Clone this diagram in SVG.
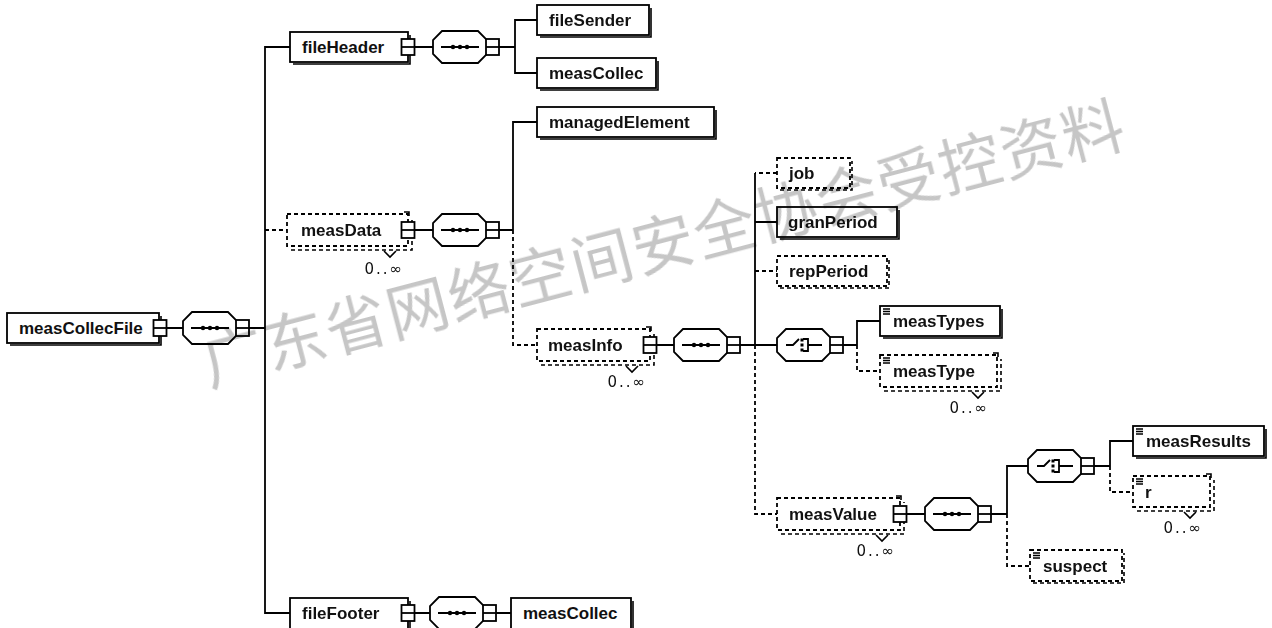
<svg xmlns="http://www.w3.org/2000/svg" width="1272" height="628" viewBox="0 0 1272 628">
<style>
.b{fill:#fff;stroke:#000;stroke-width:1.8}
.d{fill:#fff;stroke:#000;stroke-width:1.8;stroke-dasharray:4 3}
.sh{fill:none;stroke:#000;stroke-width:1.6}
.shd{fill:none;stroke:#000;stroke-width:1.6;stroke-dasharray:4 3}
.l{fill:none;stroke:#000;stroke-width:1.8}
.ld{fill:none;stroke:#000;stroke-width:1.8;stroke-dasharray:4 3}
.t{font-family:"Liberation Sans",Arial,sans-serif;font-weight:bold;font-size:17px;fill:#111}
.m{font-family:"DejaVu Sans",sans-serif;font-size:15px;fill:#111;letter-spacing:2px}
.wm{font-family:"Noto Sans CJK SC","Noto Sans",sans-serif;font-size:62px;fill:#c6c6c6;mix-blend-mode:multiply}
</style>
<defs>
<g id="seq">
 <path class="b" d="M9,0H45L54,9V23L45,32H9L0,23V9Z"/>
 <path class="l" d="M8,16H46"/>
 <circle cx="20" cy="16" r="2.2"/><circle cx="27" cy="16" r="2.2"/><circle cx="34" cy="16" r="2.2"/>
 <rect class="b" x="53" y="8" width="13" height="16"/>
 <path class="l" d="M53,16H66"/>
</g>
<g id="cho">
 <path class="b" d="M9,0H45L54,9V23L45,32H9L0,23V9Z"/>
 <path class="l" d="M9,16H16L22,10"/>
 <rect x="23.5" y="9.5" width="3" height="3"/><rect x="23.5" y="14.5" width="3" height="3"/><rect x="23.5" y="19.5" width="3" height="3"/>
 <path class="l" d="M26,10H31V22H26M31,16H45"/>
 <rect class="b" x="53" y="8" width="13" height="16"/>
 <path class="l" d="M53,16H66"/>
</g>
<g id="ex">
 <rect class="b" x="-6.5" y="-8" width="13" height="16"/>
 <path class="l" d="M-6.5,0H6.5"/>
</g>
<path id="eq" d="M3,3H10M3,5.5H10M3,8H10" fill="none" stroke="#000" stroke-width="1.4"/>
<path id="chev" d="M-6,0L0,6L6,0" fill="none" stroke="#000" stroke-width="1.6"/>
</defs>

<g id="connectors">
 <path class="l" d="M167,328H183M249,328H265"/>
 <path class="l" d="M290,47H265V613H290"/>
 <path class="ld" d="M265,230H287"/>
 <path class="l" d="M414.5,47H433M499,47H515"/>
 <path class="l" d="M537,20H515V73H537"/>
 <path class="l" d="M414.5,230H433M499,230H513"/>
 <path class="l" d="M537,122H513V230"/>
 <path class="ld" d="M513,230V345H537"/>
 <path class="l" d="M656.5,345H674M740,345H755"/>
 <path class="ld" d="M777,173H755"/>
 <path class="l" d="M755,173V345M755,222H777M755,345H777"/>
 <path class="ld" d="M755,271H777"/>
 <path class="ld" d="M755,345V514H777"/>
 <path class="l" d="M843,345H857M880,321H857V345"/>
 <path class="ld" d="M857,345V371H880"/>
 <path class="l" d="M906.5,514H925M991,514H1007M1028,466H1007V514"/>
 <path class="ld" d="M1007,514V566H1030"/>
 <path class="l" d="M1094,466H1110M1133,441H1110V466"/>
 <path class="ld" d="M1110,466V492H1133"/>
 <path class="l" d="M414.5,613H430M496,613H511"/>
</g>

<g id="compositors">
 <use href="#seq" transform="translate(183,312)"/>
 <use href="#seq" transform="translate(433,31)"/>
 <use href="#seq" transform="translate(433,214)"/>
 <use href="#seq" transform="translate(674,329)"/>
 <use href="#cho" transform="translate(777,329)"/>
 <use href="#seq" transform="translate(925,498)"/>
 <use href="#cho" transform="translate(1028,450)"/>
 <use href="#seq" transform="translate(430,597)"/>
</g>

<g id="measCollecFile">
 <path class="sh" d="M10,345H161V316"/>
 <rect class="b" x="7" y="313" width="152" height="30"/>
 <text class="t" x="19" y="334">measCollecFile</text>
 <use href="#ex" x="160" y="328"/>
</g>
<g id="fileHeader">
 <path class="sh" d="M293,64H410V35"/>
 <rect class="b" x="290" y="32" width="118" height="30"/>
 <text class="t" x="302" y="53">fileHeader</text>
 <use href="#ex" x="408" y="47"/>
</g>
<g id="fileSender">
 <path class="sh" d="M540,37H651V8"/>
 <rect class="b" x="537" y="5" width="112" height="30"/>
 <text class="t" x="549" y="26">fileSender</text>
</g>
<g id="measCollec1">
 <path class="sh" d="M540,90H658V61"/>
 <rect class="b" x="537" y="58" width="119" height="30"/>
 <text class="t" x="549" y="79">measCollec</text>
</g>
<g id="managedElement">
 <path class="sh" d="M540,139H716V110"/>
 <rect class="b" x="537" y="107" width="177" height="30"/>
 <text class="t" x="549" y="128">managedElement</text>
</g>
<g id="measData">
 <path class="shd" d="M291,250H412V218"/>
 <path class="sh" d="M404,212h5v4"/>
 <rect class="d" x="287" y="214" width="121" height="32"/>
 <text class="t" x="301" y="236">measData</text>
 <use href="#ex" x="408" y="230"/>
 <use href="#chev" x="390" y="251"/>
 <text class="m" x="404" y="274" text-anchor="end">0..∞</text>
</g>
<g id="measInfo">
 <path class="shd" d="M541,365H654V333"/>
 <path class="sh" d="M646,327h5v4"/>
 <rect class="d" x="537" y="329" width="113" height="32"/>
 <text class="t" x="548" y="351">measInfo</text>
 <use href="#ex" x="650" y="345"/>
 <use href="#chev" x="632" y="366"/>
 <text class="m" x="647" y="387" text-anchor="end">0..∞</text>
</g>
<g id="job">
 <path class="shd" d="M780,190H852V161"/>
 <rect class="d" x="777" y="158" width="73" height="30"/>
 <text class="t" x="789" y="179">job</text>
</g>
<g id="granPeriod">
 <path class="sh" d="M780,239H899V210"/>
 <rect class="b" x="777" y="207" width="120" height="30"/>
 <text class="t" x="788" y="228">granPeriod</text>
</g>
<g id="repPeriod">
 <path class="shd" d="M780,288H889V259"/>
 <rect class="d" x="777" y="256" width="110" height="30"/>
 <text class="t" x="789" y="277">repPeriod</text>
</g>
<g id="measTypes">
 <path class="sh" d="M883,338H1002V309"/>
 <rect class="b" x="880" y="306" width="120" height="30"/>
 <use href="#eq" x="880" y="306"/>
 <text class="t" x="893" y="327">measTypes</text>
</g>
<g id="measType">
 <path class="shd" d="M884,391H1001V359"/>
 <path class="sh" d="M993,353h5v4"/>
 <rect class="d" x="880" y="355" width="117" height="32"/>
 <use href="#eq" x="880" y="355"/>
 <text class="t" x="893" y="377">measType</text>
 <use href="#chev" x="978" y="392"/>
 <text class="m" x="989" y="413" text-anchor="end">0..∞</text>
</g>
<g id="measValue">
 <path class="shd" d="M781,534H904V502"/>
 <path class="sh" d="M896,496h5v4"/>
 <rect class="d" x="777" y="498" width="123" height="32"/>
 <text class="t" x="789" y="520">measValue</text>
 <use href="#ex" x="900" y="514"/>
 <use href="#chev" x="882" y="535"/>
 <text class="m" x="896" y="556" text-anchor="end">0..∞</text>
</g>
<g id="measResults">
 <path class="sh" d="M1136,458H1266V429"/>
 <rect class="b" x="1133" y="426" width="131" height="30"/>
 <use href="#eq" x="1133" y="426"/>
 <text class="t" x="1146" y="447">measResults</text>
</g>
<g id="r">
 <path class="shd" d="M1137,511H1214V480"/>
 <path class="sh" d="M1206,474h5v4"/>
 <rect class="d" x="1133" y="476" width="77" height="31"/>
 <use href="#eq" x="1133" y="476"/>
 <text class="t" x="1145" y="498">r</text>
 <use href="#chev" x="1190" y="512"/>
 <text class="m" x="1203" y="533" text-anchor="end">0..∞</text>
</g>
<g id="suspect">
 <path class="shd" d="M1033,583H1124V553"/>
 <rect class="d" x="1030" y="550" width="92" height="31"/>
 <use href="#eq" x="1030" y="550"/>
 <text class="t" x="1043" y="572">suspect</text>
</g>
<g id="fileFooter">
 <path class="sh" d="M410,601V630"/>
 <rect class="b" x="290" y="598" width="118" height="32"/>
 <text class="t" x="302" y="619">fileFooter</text>
 <use href="#ex" x="408" y="613"/>
</g>
<g id="measCollec2">
 <path class="sh" d="M633,601V630"/>
 <rect class="b" x="511" y="598" width="120" height="32"/>
 <text class="t" x="523" y="619">measCollec</text>
</g>

<g id="watermark">
 <text class="wm" transform="translate(662,240) rotate(-14.7)" text-anchor="middle" dominant-baseline="central" textLength="950" lengthAdjust="spacing">广东省网络空间安全协会受控资料</text>
</g>
</svg>
